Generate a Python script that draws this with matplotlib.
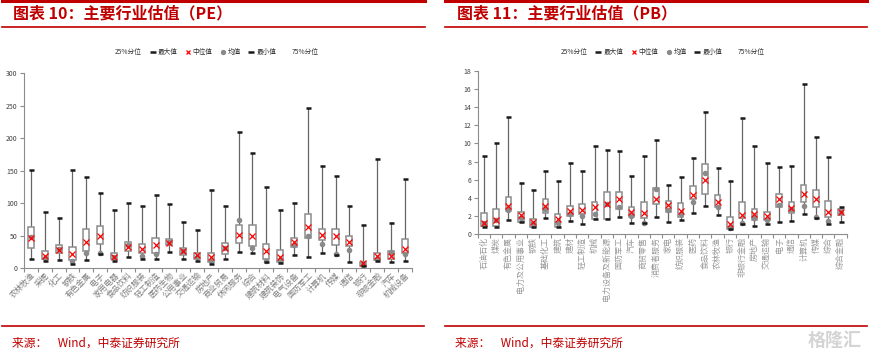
import numpy as np
import matplotlib
matplotlib.use('Agg')
import matplotlib.pyplot as plt
from matplotlib.lines import Line2D

plt.rcParams['font.family'] = ['Noto Sans CJK SC', 'DejaVu Sans']
plt.rcParams['axes.unicode_minus'] = False

# ---- PE data (图表10) ----
pe_cats = ['农林牧渔', '采掘', '化工', '钢铁', '有色金属', '电子', '家用电器', '食品饮料',
           '纺织服装', '轻工制造', '医药生物', '公用事业', '交通运输', '房地产', '商业贸易',
           '休闲服务', '综合', '建筑材料', '建筑装饰', '电气设备', '国防军工', '计算机',
           '传媒', '通信', '银行', '非银金融', '汽车', '机械设备']
pe_max = [152, 86, 77, 152, 140, 116, 90, 101, 96, 113, 99, 72, 59, 120, 96,
          210, 177, 125, 90, 100, 246, 157, 142, 96, 66, 168, 70, 137]
pe_q3 = [64, 27, 36, 33, 60, 65, 23, 41, 37, 46, 45, 31, 24, 24, 39,
         66, 67, 37, 28, 47, 83, 61, 60, 49, 10, 24, 27, 45]
pe_median = [46, 19, 28, 22, 41, 49, 18, 33, 29, 36, 39, 27, 20, 17, 31,
             51, 49, 26, 17, 41, 64, 51, 49, 41, 8, 19, 19, 30]
pe_mean = [48, 16, 29, 11, 24, 23, 17, 36, 19, 22, 40, 26, 18, 12, 31,
           74, 31, 12, 13, 36, 50, 38, 22, 28, 6, 15, 25, 22]
pe_q1 = [31, 15, 23, 13, 26, 38, 14, 27, 23, 24, 36, 20, 15, 10, 22,
         39, 35, 15, 9, 33, 46, 43, 36, 35, 4, 13, 15, 24]
pe_min = [14, 11, 13, 6, 13, 22, 11, 17, 14, 14, 25, 14, 11, 7, 14,
          25, 23, 10, 8, 20, 18, 24, 20, 10, 4, 11, 9, 12]

# ---- PB data (图表11) ----
pb_cats = ['石油石化', '煤炭', '有色金属', '电力及公用事业', '钢铁', '基础化工', '建筑', '建材',
           '轻工制造', '机械', '电力设备及新能源', '国防军工', '汽车', '商贸零售', '消费者服务',
           '家电', '纺织服装', '医药', '食品饮料', '农林牧渔', '银行', '非银行金融', '房地产',
           '交通运输', '电子', '通信', '计算机', '传媒', '综合', '综合金融']
pb_max = [8.6, 10.0, 12.96, 5.67, 4.86, 7.0, 5.85, 7.88, 7.0, 9.7, 9.27, 9.16, 6.4, 8.6, 10.38,
          5.4, 6.26, 8.35, 13.47, 7.32, 5.89, 12.85, 9.75, 7.8, 7.43, 7.5, 16.56, 10.75, 8.54, 3.02]
pb_q3 = [2.28, 2.8, 4.05, 2.47, 1.62, 3.83, 2.2, 3.13, 3.28, 3.57, 4.67, 4.6, 2.94, 3.53, 5.1,
         3.68, 3.39, 5.34, 7.73, 4.27, 1.91, 3.5, 2.76, 2.47, 4.42, 3.5, 5.41, 4.86, 3.6, 2.76]
pb_median = [1.25, 1.55, 3.1, 2.1, 1.3, 3.13, 1.62, 2.58, 2.65, 3.0, 3.3, 3.83, 2.47, 2.36, 3.83,
             3.16, 2.54, 4.34, 5.96, 3.57, 1.07, 2.1, 2.17, 2.02, 3.83, 2.9, 4.38, 3.83, 2.47, 2.39]
pb_mean = [1.2, 1.5, 2.6, 1.73, 1.18, 2.72, 1.18, 2.2, 2.02, 2.2, 3.3, 3.0, 2.02, 1.25, 4.97,
           2.65, 2.2, 3.57, 6.7, 2.94, 0.63, 1.18, 1.73, 1.55, 3.16, 2.76, 3.09, 1.84, 1.47, 2.4]
pb_q1 = [0.85, 0.9, 2.58, 1.29, 0.81, 2.36, 0.81, 2.02, 2.17, 1.66, 1.62, 2.8, 1.84, 1.8, 3.3,
         2.47, 1.91, 3.83, 4.42, 2.94, 0.52, 1.8, 1.55, 1.55, 3.02, 2.36, 3.57, 3.02, 1.84, 2.1]
pb_min = [0.75, 0.8, 1.55, 1.29, 0.8, 1.8, 0.81, 1.44, 1.1, 1.7, 1.62, 1.9, 1.25, 1.25, 1.9,
          1.29, 1.55, 2.36, 3.13, 2.1, 0.52, 1.1, 0.92, 1.07, 1.36, 1.44, 2.17, 1.73, 1.07, 1.36]

RED = '#C00000'
W, H = 870, 352

fig = plt.figure(figsize=(W / 100, H / 100), dpi=100)


def px_axes(x0, x1, ytop, ybot):
    return fig.add_axes([x0 / W, 1 - ybot / H, (x1 - x0) / W, (ybot - ytop) / H])


def hline(x0, x1, y, lw):
    fig.add_artist(Line2D([x0 / W, x1 / W], [1 - y / H, 1 - y / H],
                          transform=fig.transFigure, color=RED, lw=lw))


def draw_boxes(ax, cats, vmax, q3, med, mean, q1, vmin, width):
    x = np.arange(len(cats))
    ax.vlines(x, vmin, vmax, color='#666666', lw=0.9, zorder=1)
    ax.bar(x, np.array(q3) - np.array(q1), bottom=q1, width=width,
           color='white', edgecolor='#8c8c8c', linewidth=1.1, zorder=2)
    ax.plot(x, mean, 'o', color='#8a8a8a', markersize=3, ls='none', zorder=3)
    ax.plot(x, med, 'x', color='#FF0000', markersize=3.8, mew=0.9, ls='none', zorder=4)
    ax.plot(x, vmax, '_', color='#1a1a1a', markersize=3.6, mew=1.8, ls='none', zorder=4)
    ax.plot(x, vmin, '_', color='#1a1a1a', markersize=3.6, mew=1.8, ls='none', zorder=4)
    ax.set_xlim(-0.5, len(cats) - 0.5)
    for s in ['top', 'right']:
        ax.spines[s].set_visible(False)
    for s in ['left', 'bottom']:
        ax.spines[s].set_color('#8c8c8c')
        ax.spines[s].set_linewidth(0.8)
    ax.set_xticks(x)
    ax.set_xticks(np.arange(len(cats) + 1) - 0.5, minor=True)
    ax.tick_params(axis='x', which='major', length=0, pad=2)
    ax.tick_params(axis='x', which='minor', length=3, color='#8c8c8c', width=0.8)
    ax.tick_params(axis='y', length=3, color='#8c8c8c', width=0.8,
                   labelsize=5, labelcolor='#404040', pad=1.5)


def legend(cx, cy):
    handles = [
        Line2D([], [], ls='none', label='25%分位'),
        Line2D([], [], marker='_', color='#1a1a1a', ls='none', markersize=4, mew=1.8, label='最大值'),
        Line2D([], [], marker='x', color='#FF0000', ls='none', markersize=3.5, mew=0.9, label='中位值'),
        Line2D([], [], marker='o', color='#8a8a8a', ls='none', markersize=2.8, label='均值'),
        Line2D([], [], marker='_', color='#1a1a1a', ls='none', markersize=4, mew=1.8, label='最小值'),
        Line2D([], [], ls='none', label='75%分位'),
    ]
    fig.legend(handles=handles, loc='center', bbox_to_anchor=(cx / W, 1 - cy / H),
               ncol=6, frameon=False, fontsize=4.8, handlelength=0.8, handletextpad=0.3,
               columnspacing=1.2, labelcolor='#333333')


# ---------- 左图 PE ----------
hline(2, 425, 1, 2.2)
hline(2, 425, 26.7, 1.2)
hline(2, 424, 326, 1.2)
fig.text(13 / W, 1 - 13 / H, '图表 10：主要行业估值（PE）', color=RED, fontsize=11.5,
         fontweight='bold', style='italic', va='center', ha='left')
fig.text(12 / W, 1 - 343 / H, '来源：    Wind，中泰证券研究所', color=RED, fontsize=8.5,
         va='center', ha='left')
legend(213, 52)

ax1 = px_axes(24, 411.7, 73.3, 268.3)
draw_boxes(ax1, pe_cats, pe_max, pe_q3, pe_median, pe_mean, pe_q1, pe_min, 0.44)
ax1.set_ylim(0, 300)
ax1.set_yticks(np.arange(0, 301, 50))
ax1.set_xticklabels(pe_cats, rotation=45, ha='right', va='top', rotation_mode='anchor',
                    fontsize=5.8, color='#7f7f7f')

# ---------- 右图 PB ----------
hline(445, 867, 1, 2.2)
hline(445, 867, 26.7, 1.2)
hline(445, 867, 326, 1.2)
fig.text(457 / W, 1 - 13 / H, '图表 11：主要行业估值（PB）', color=RED, fontsize=11.5,
         fontweight='bold', style='italic', va='center', ha='left')
fig.text(455 / W, 1 - 343 / H, '来源：    Wind，中泰证券研究所', color=RED, fontsize=8.5,
         va='center', ha='left')
legend(659, 52)

ax2 = px_axes(477.7, 846.7, 71, 234)
draw_boxes(ax2, pb_cats, pb_max, pb_q3, pb_median, pb_mean, pb_q1, pb_min, 0.46)
ax2.set_ylim(0, 18)
ax2.set_yticks(np.arange(0, 19, 2))
ax2.set_xticklabels(pb_cats, rotation=90, ha='center', va='top',
                    fontsize=5.8, color='#9a9a9a')

# watermark
fig.text(862 / W, 1 - 340 / H, '格隆汇', color='#d4d4d4', fontsize=13, fontweight='bold',
         ha='right', va='center')

fig.savefig('out.png', dpi=100)
